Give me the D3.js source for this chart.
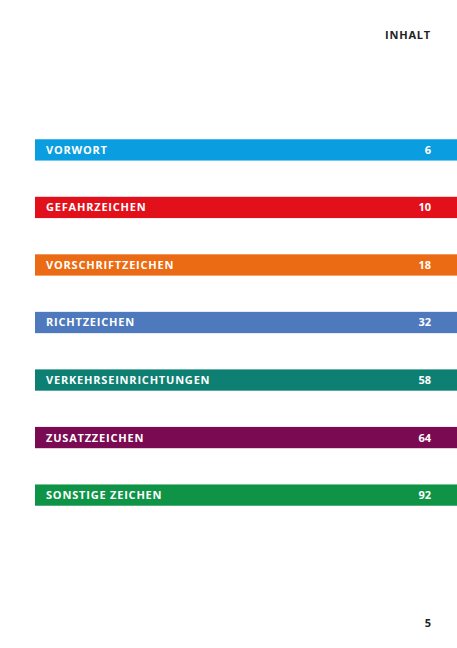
<!DOCTYPE html>
<html><head><meta charset="utf-8">
<script src="https://cdn.jsdelivr.net/npm/d3@7"></script>
<style>body{margin:0;background:#fff}</style></head>
<body><svg id="c" width="457" height="648"></svg>
<script>
var chapters = ["VORWORT","GEFAHRZEICHEN","VORSCHRIFTZEICHEN","RICHTZEICHEN","VERKEHRSEINRICHTUNGEN","ZUSATZZEICHEN","SONSTIGE ZEICHEN"];
var pages = [6,10,18,32,58,64,92];
var colors = ["#0a9ddf","#e2101b","#eb6a14","#4e79bd","#0d7f73","#7a0b53","#0f9447"];

var svg = d3.select("#c");
var font = "'Open Sans', sans-serif";

var y = d3.scaleBand().domain(chapters).range([122, 523]).paddingInner(0.63).paddingOuter(0.3);

var row = svg.selectAll("g.row").data(chapters).enter().append("g").attr("class","row")
  .attr("transform", function(d){ return "translate(0," + y(d) + ")"; });

row.append("rect").attr("x",35).attr("width",422).attr("height",y.bandwidth())
  .attr("fill", function(d,i){ return colors[i]; });

row.append("text").attr("x",46).attr("y",y.bandwidth()/2+4)
  .attr("fill","#fff").attr("font-family",font).attr("font-weight",700)
  .attr("font-size",11).attr("letter-spacing",0.8).text(function(d){ return d; });

row.append("text").attr("x",431).attr("y",y.bandwidth()/2+4).attr("text-anchor","end")
  .attr("fill","#fff").attr("font-family",font).attr("font-weight",700)
  .attr("font-size",11).text(function(d,i){ return pages[i]; });

svg.append("text").attr("x",431).attr("y",39).attr("text-anchor","end")
  .attr("font-family",font).attr("font-weight",700).attr("font-size",11)
  .attr("letter-spacing",0.8).attr("fill","#222").text("INHALT");

svg.append("text").attr("x",431).attr("y",627).attr("text-anchor","end")
  .attr("font-family",font).attr("font-weight",700).attr("font-size",11)
  .attr("fill","#222").text("5");
</script></body></html>
